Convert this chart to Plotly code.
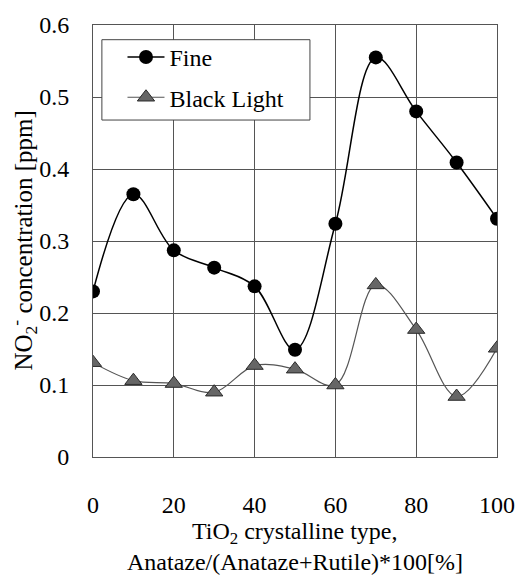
import plotly.graph_objects as go

x_vals = [0, 10, 20, 30, 40, 50, 60, 70, 80, 90, 100]
fine = [0.230, 0.365, 0.287, 0.263, 0.237, 0.149, 0.324, 0.555, 0.480, 0.409, 0.331]
black_light = [0.131, 0.106, 0.102, 0.090, 0.127, 0.122, 0.100, 0.239, 0.177, 0.084, 0.151]
x_ticks = [0, 20, 40, 60, 80, 100]
y_ticks = [0, 0.1, 0.2, 0.3, 0.4, 0.5, 0.6]
y_tick_labels = ["0", "0.1", "0.2", "0.3", "0.4", "0.5", "0.6"]

FONT = "Liberation Serif, Times New Roman, serif"
FS = 24

fig = go.Figure()
fig.add_trace(go.Scatter(
    x=x_vals, y=fine, name="Fine", mode="lines+markers",
    line=dict(color="black", width=1.5, shape="spline", smoothing=1),
    marker=dict(symbol="circle", size=14, color="black"),
    legendgroup="a",
))
fig.add_trace(go.Scatter(
    x=x_vals, y=black_light, name="Black Light", mode="lines+markers",
    line=dict(color="#555555", width=1.2, shape="spline", smoothing=1),
    marker=dict(symbol="triangle-up", size=15, color="#666666",
                line=dict(color="#2a2a2a", width=1)),
    legendgroup="b",
))

# legend frame (white box with border, covering the grid like the original)
fig.add_shape(
    type="rect", xref="paper", yref="paper",
    x0=0.022, x1=0.537, y0=0.780, y1=0.966,
    fillcolor="white", line=dict(color="#444444", width=1), layer="above",
)

fig.update_layout(
    width=527, height=577,
    margin=dict(l=93, r=24, t=21, b=120),
    paper_bgcolor="white", plot_bgcolor="white",
    font=dict(family=FONT, size=FS, color="black"),
    showlegend=True,
    legend=dict(
        x=0.073, y=0.977, xanchor="left", yanchor="top",
        bgcolor="rgba(0,0,0,0)", borderwidth=0,
        font=dict(family=FONT, size=FS, color="black"),
        tracegroupgap=6, itemwidth=37,
    ),
)
fig.update_xaxes(
    range=[0, 100], tickvals=x_ticks, ticktext=[str(v) for v in x_ticks],
    showgrid=True, gridcolor="#555555", gridwidth=1,
    showline=True, linecolor="#555555", linewidth=1, mirror=True,
    zeroline=False,
    ticks="outside", ticklen=26, tickcolor="rgba(0,0,0,0)",
    tickfont=dict(family=FONT, size=FS, color="black"),
)
fig.update_yaxes(
    range=[0, 0.6], tickvals=y_ticks, ticktext=y_tick_labels,
    showgrid=True, gridcolor="#555555", gridwidth=1,
    showline=True, linecolor="#555555", linewidth=1, mirror=True,
    zeroline=False,
    ticks="outside", ticklen=18, tickcolor="rgba(0,0,0,0)",
    tickfont=dict(family=FONT, size=FS, color="black"),
)

fig.add_annotation(
    text="TiO<sub>2</sub> crystalline type,", xref="paper", yref="paper",
    x=0.5, y=-0.175, xanchor="center", yanchor="middle", showarrow=False,
    font=dict(family=FONT, size=FS, color="black"),
)
fig.add_annotation(
    text="Anataze/(Anataze+Rutile)*100[%]", xref="paper", yref="paper",
    x=0.5, y=-0.243, xanchor="center", yanchor="middle", showarrow=False,
    font=dict(family=FONT, size=FS, color="black"),
)
fig.add_annotation(
    text="NO<sub>2</sub><sup>-</sup> concentration [ppm]", xref="paper", yref="paper",
    x=-0.172, y=0.5, xanchor="center", yanchor="middle", showarrow=False,
    textangle=-90,
    font=dict(family=FONT, size=25, color="black"),
)

fig.write_html(
    "out.html",
    config={"displayModeBar": False},
    post_script="document.body.style.margin='0';document.body.style.overflow='hidden';",
)
